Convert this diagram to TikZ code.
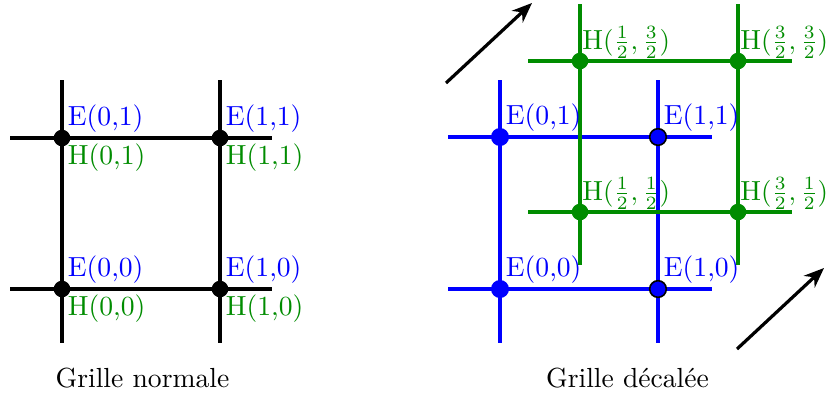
\documentclass[tikz,border=0pt]{standalone}
\usetikzlibrary{arrows.meta}
\definecolor{eblue}{RGB}{0,0,255}
\definecolor{hgreen}{RGB}{0,140,0}
\begin{document}
\begin{tikzpicture}[x=0.373pt,y=-0.373pt,
  font=\fontsize{10.3}{12.4}\selectfont,
  gridline/.style={line width=1.3pt},
  dot/.style={circle,inner sep=0pt,minimum size=6.2pt},
  elabel/.style={text=eblue,anchor=south west,inner sep=2pt},
  hlabel/.style={text=hgreen,anchor=north west,inner sep=2pt},
  hfrac/.style={text=hgreen,anchor=south west,inner sep=0.7pt},
  shiftarrow/.style={-{Stealth[length=7.5pt,width=6pt]},line width=1.2pt},
  caption/.style={anchor=base}]
\useasboundingbox (0,0) rectangle (828,396);

% ---------- normal grid ----------
\foreach \x/\n in {62/0,220/1} {
  \coordinate (nv\n t) at (\x,80);
  \coordinate (nv\n b) at (\x,343);
  \draw[gridline] (nv\n t) -- (nv\n b);
}
\foreach \y/\n in {289/0,138/1} {
  \coordinate (nh\n l) at (10,\y);
  \coordinate (nh\n r) at (272,\y);
  \draw[gridline] (nh\n l) -- (nh\n r);
}
\foreach \i/\x in {0/62,1/220} {
  \foreach \j/\y in {0/289,1/138} {
    \node[dot,fill=black] (n\i\j) at (\x,\y) {};
    \node[elabel] (ne\i\j) at (n\i\j.center) {E(\i,\j)};
    \node[hlabel] (nh\i\j) at (n\i\j.center) {H(\i,\j)};
  }
}

% ---------- staggered grid: E grid ----------
\foreach \x/\n in {500/0,658/1} {
  \coordinate (ev\n t) at (\x,80);
  \coordinate (ev\n b) at (\x,343);
  \draw[gridline,eblue] (ev\n t) -- (ev\n b);
}
\foreach \y/\n in {289/0,137/1} {
  \coordinate (eh\n l) at (448,\y);
  \coordinate (eh\n r) at (712,\y);
  \draw[gridline,eblue] (eh\n l) -- (eh\n r);
}

% ---------- staggered grid: H grid ----------
\foreach \x/\n in {580/0,738/1} {
  \coordinate (hv\n t) at (\x,4);
  \coordinate (hv\n b) at (\x,265);
  \draw[gridline,hgreen] (hv\n t) -- (hv\n b);
}
\foreach \y/\n in {212/0,61/1} {
  \coordinate (hh\n l) at (528,\y);
  \coordinate (hh\n r) at (792,\y);
  \draw[gridline,hgreen] (hh\n l) -- (hh\n r);
}

% E points
\foreach \j/\y in {0/289,1/137} {
  \node[dot,fill=eblue,draw=eblue,line width=0.5pt] (s0\j) at (500,\y) {};
  \node[elabel] (se0\j) at (s0\j.center) {E(0,\j)};
  \node[dot,fill=eblue,draw=black,line width=0.6pt] (s1\j) at (658,\y) {};
  \node[elabel] (se1\j) at (s1\j.center) {E(1,\j)};
}

% H points
\node[dot,fill=hgreen] (h11) at (580,61) {};
\node[dot,fill=hgreen] (h31) at (738,61) {};
\node[dot,fill=hgreen] (h10) at (580,212) {};
\node[dot,fill=hgreen] (h30) at (738,212) {};
\node[hfrac] (lh11) at (h11.center) {H$(\frac{1}{2},\frac{3}{2})$};
\node[hfrac] (lh31) at (h31.center) {H$(\frac{3}{2},\frac{3}{2})$};
\node[hfrac] (lh10) at (h10.center) {H$(\frac{1}{2},\frac{1}{2})$};
\node[hfrac] (lh30) at (h30.center) {H$(\frac{3}{2},\frac{1}{2})$};

% half-cell shift arrows
\coordinate (a1s) at (446,83);
\coordinate (a1e) at (532,3);
\coordinate (a2s) at (737,349);
\coordinate (a2e) at (824,268);
\draw[shiftarrow] (a1s) -- (a1e);
\draw[shiftarrow] (a2s) -- (a2e);

% captions
\node[caption] (capn) at (142.5,387) {Grille normale};
\node[caption] (capd) at (627.5,387) {Grille décalée};
\end{tikzpicture}
\end{document}
